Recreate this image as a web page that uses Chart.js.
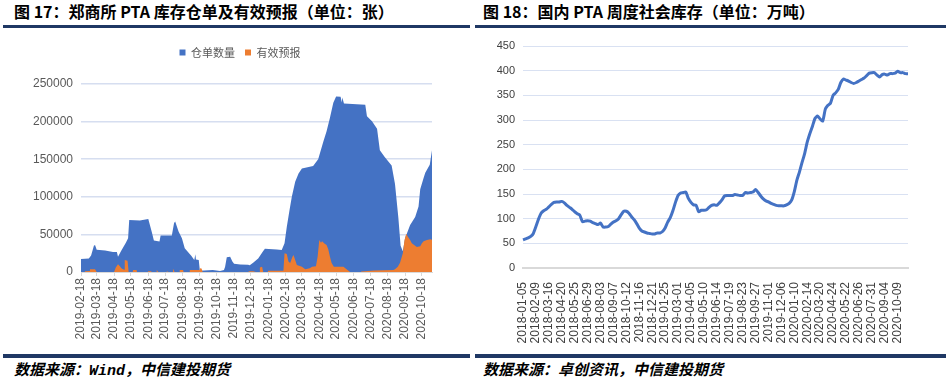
<!DOCTYPE html>
<html>
<head>
<meta charset="utf-8">
<script src="https://cdn.jsdelivr.net/npm/chart.js@4.4.1/dist/chart.umd.min.js"></script>
<style>
  body { margin: 0; width: 946px; height: 385px; background: #fff; position: relative; overflow: hidden; }
  .ttl { position: absolute; top: 2px; font: bold 16px "Noto Sans CJK SC", sans-serif; line-height: 18px; color: #000; white-space: nowrap; }
  .rule { position: absolute; height: 3px; background: #1F3864; }
  .rule.low { height: 4px; }
  .box { position: absolute; top: 30px; height: 318px; }
  .src { position: absolute; top: 363px; font: italic bold 15px "Liberation Mono", "Noto Sans CJK SC", monospace; line-height: 18px; color: #000; white-space: nowrap; }
</style>
</head>
<body>
<div class="ttl" style="left:14px">图 17：郑商所 PTA 库存仓单及有效预报（单位：张）</div>
<div class="rule" style="left:3px;width:467px;top:25px"></div>
<div class="ttl" style="left:483px">图 18：国内 PTA 周度社会库存（单位：万吨）</div>
<div class="rule" style="left:475px;width:471px;top:25px"></div>

<div class="box" style="left:0;width:470px"><canvas id="stockChart"></canvas></div>
<div class="box" style="left:475px;width:471px"><canvas id="invChart"></canvas></div>

<div class="rule low" style="left:3px;width:467px;top:354px"></div>
<div class="rule low" style="left:475px;width:471px;top:354px"></div>
<div class="src" style="left:14px">数据来源：Wind，中信建投期货</div>
<div class="src" style="left:483px">数据来源：卓创资讯，中信建投期货</div>

<script>
// ---- 图17 仓单数量 / 有效预报 (daily at turning points)
const stockDates = [
  '2019-02-18', '2019-03-04', '2019-03-08', '2019-03-13', '2019-03-15', '2019-03-18', '2019-04-02', '2019-04-16',
  '2019-04-23', '2019-04-25', '2019-05-01', '2019-05-09', '2019-05-13', '2019-05-15', '2019-06-03', '2019-06-18',
  '2019-06-24', '2019-06-28', '2019-07-08', '2019-07-10', '2019-07-30', '2019-08-03', '2019-08-05', '2019-08-11',
  '2019-08-17', '2019-08-22', '2019-09-03', '2019-09-08', '2019-09-10', '2019-09-11', '2019-09-16', '2019-09-18',
  '2019-10-11', '2019-10-24', '2019-10-31', '2019-11-02', '2019-11-05', '2019-11-11', '2019-11-15', '2019-11-18',
  '2019-11-29', '2019-12-13', '2019-12-16', '2019-12-22', '2019-12-31', '2020-01-09', '2020-01-12', '2020-02-02',
  '2020-02-11', '2020-02-16', '2020-02-20', '2020-02-25', '2020-02-29', '2020-03-06', '2020-03-12', '2020-03-18',
  '2020-04-07', '2020-04-16', '2020-04-25', '2020-05-01', '2020-05-07', '2020-05-13', '2020-05-18', '2020-05-26',
  '2020-05-28', '2020-05-29', '2020-06-01', '2020-07-09', '2020-07-12', '2020-07-21', '2020-07-30', '2020-08-04',
  '2020-08-13', '2020-08-25', '2020-08-31', '2020-09-06', '2020-09-10', '2020-09-14', '2020-09-18', '2020-09-27',
  '2020-10-06', '2020-10-12', '2020-10-15', '2020-10-21', '2020-10-24', '2020-11-01', '2020-11-05'
];
const stockValues = [
  17300, 17800, 22000, 35000, 36000, 29500, 28500, 26500,
  26500, 20400, 28500, 39000, 45000, 69300, 68500, 70500,
  53700, 42000, 40500, 48400, 48500, 65000, 67000, 53700,
  44900, 31600, 21300, 16000, 23500, 16500, 16000, 1500,
  2700, 1300, 2700, 7000, 19600, 20400, 14000, 11000,
  10000, 9800, 9000, 12400, 17800, 28000, 31000, 30000,
  29300, 38200, 60000, 82700, 100000, 120000, 131000, 137500,
  141000, 150000, 173000, 187100, 205000, 225000, 233500, 233000,
  225500, 232000, 224000, 222500, 207100, 200400, 190500, 162000,
  152500, 141500, 117000, 72000, 35000, 27500, 45000, 62500,
  73000, 87000, 110000, 125000, 132000, 142700, 162000
];
const forecastDates = [
  '2019-02-18', '2019-02-24', '2019-02-25', '2019-03-05', '2019-03-06', '2019-03-15', '2019-03-18', '2019-04-18',
  '2019-04-21', '2019-04-25', '2019-04-28', '2019-05-01', '2019-05-04', '2019-05-06', '2019-05-07', '2019-05-12',
  '2019-05-14', '2019-05-21', '2019-05-22', '2019-05-28', '2019-05-29', '2019-06-17', '2019-06-18', '2019-06-23',
  '2019-06-24', '2019-07-02', '2019-07-03', '2019-07-06', '2019-07-20', '2019-07-21', '2019-07-24', '2019-07-31',
  '2019-08-01', '2019-08-04', '2019-08-12', '2019-08-13', '2019-08-19', '2019-08-20', '2019-08-30', '2019-08-31',
  '2019-09-17', '2019-09-18', '2019-09-21', '2019-09-23', '2019-12-13', '2019-12-14', '2019-12-22', '2019-12-27',
  '2020-01-02', '2020-01-03', '2020-01-07', '2020-01-09', '2020-01-17', '2020-01-18', '2020-02-14', '2020-02-16',
  '2020-02-20', '2020-02-23', '2020-02-26', '2020-03-01', '2020-03-03', '2020-03-06', '2020-03-09', '2020-03-18',
  '2020-03-24', '2020-04-01', '2020-04-05', '2020-04-12', '2020-04-15', '2020-04-18', '2020-04-21', '2020-04-23',
  '2020-04-27', '2020-05-01', '2020-05-04', '2020-05-07', '2020-05-10', '2020-05-14', '2020-05-31', '2020-06-09',
  '2020-06-12', '2020-07-01', '2020-07-02', '2020-07-25', '2020-08-28', '2020-08-31', '2020-09-05', '2020-09-09',
  '2020-09-14', '2020-09-17', '2020-09-20', '2020-09-23', '2020-09-27', '2020-09-30', '2020-10-06', '2020-10-09',
  '2020-10-15', '2020-10-18', '2020-10-21', '2020-10-27', '2020-11-02', '2020-11-05'
];
const forecastValues = [
  0, 0, 1000, 1200, 3500, 3500, 0, 0,
  6000, 10200, 8000, 5000, 3500, 3000, 16000, 15000,
  0, 0, 2700, 2700, 0, 0, 1000, 1000,
  0, 0, 2500, 0, 0, 1000, 0, 0,
  4400, 0, 0, 2700, 2700, 0, 0, 2700,
  2700, 4900, 4500, 0, 0, 1000, 1000, 0,
  0, 6000, 7100, 0, 0, 1500, 1500, 24900,
  24000, 14000, 12000, 20000, 22700, 16000, 9300, 7100,
  3500, 5000, 7100, 7800, 20400, 42700, 39000, 41000,
  38000, 36000, 30200, 20400, 12000, 7100, 7100, 1500,
  0, 0, 800, 2000, 2500, 3500, 7000, 12400,
  25000, 42700, 50700, 47000, 42700, 38200, 35000, 33300,
  34200, 38200, 40900, 42700, 43600, 43000
];
const stockTickLabels = [
  '2019-02-18', '2019-03-18', '2019-04-18', '2019-05-18', '2019-06-18', '2019-07-18', '2019-08-18',
  '2019-09-18', '2019-10-18', '2019-11-18', '2019-12-18', '2020-01-18', '2020-02-18', '2020-03-18',
  '2020-04-18', '2020-05-18', '2020-06-18', '2020-07-18', '2020-08-18', '2020-09-18', '2020-10-18'
];

// ---- 图18 周度社会库存 (万吨), one value per week
const invStart = '2018-01-05';
const invExtraDate = '2020-04-30'; // extra report before the May holiday
const invValues = [
  57, 59, 61, 64, 70, 84, 99, 111, 116, 119,
  124, 129, 133, 134, 134, 135, 132, 127, 123, 119,
  114, 110, 107, 94, 95, 96, 95, 92, 90, 88,
  91, 83, 83, 84, 89, 93, 96, 100, 108, 115,
  115, 111, 104, 98, 90, 81, 75, 73, 71, 70,
  69, 69, 71, 71, 74, 81, 93, 102, 116, 133,
  147, 152, 153, 154, 141, 133, 128, 127, 114, 117,
  117, 118, 123, 127, 128, 127, 132, 138, 146, 147,
  147, 147, 149, 148, 147, 147, 153, 152, 153, 154,
  159, 153, 146, 140, 136, 134, 131, 129, 127, 126,
  126, 126, 128, 131, 138, 155, 178, 195, 214, 232,
  255, 272, 287, 303, 308, 302, 298, 322, 330, 334,
  350, 355, 362, 376, 383, 381, 379, 376, 374, 376,
  379, 382, 385, 390, 395, 396, 396, 391, 387, 392,
  393, 391, 394, 394, 395, 399, 396, 396, 394, 394
];

// day offset from the first trading date
const dayOf = d => (Date.parse(d) - Date.parse(stockDates[0])) / 86400000;

// weekly category labels
const invLabels = [];
let t = Date.parse(invStart);
while (invLabels.length < invValues.length) {
  const s = new Date(t).toISOString().slice(0, 10);
  invLabels.push(s);
  if (s === '2020-04-24') invLabels.push(invExtraDate);
  t += 7 * 86400000;
}
invLabels.length = invValues.length;

const tickFont = { family: '"Liberation Sans", Arial, sans-serif', size: 12 };

// extra room under the legend, and centre it like the original
const legendGap = {
  id: 'legendGap',
  afterInit(chart) {
    const lg = chart.legend;
    if (!lg) return;
    const fit = lg.fit.bind(lg);
    lg.fit = function () { fit(); this.height += 16; };
  },
  afterLayout(chart) {
    const lg = chart.legend;
    lg.left = 48;
    lg.width = lg.right - lg.left;
  }
};

const stockChart = new Chart(document.getElementById('stockChart'), {
  type: 'line',
  data: {
    datasets: [
      {
        label: '仓单数量',
        data: stockDates.map((d, i) => ({ x: dayOf(d), y: stockValues[i] })),
        backgroundColor: '#4472C4',
        borderColor: '#4472C4',
        borderWidth: 0,
        pointRadius: 0,
        fill: 'origin',
        order: 2
      },
      {
        label: '有效预报',
        data: forecastDates.map((d, i) => ({ x: dayOf(d), y: forecastValues[i] })),
        backgroundColor: '#ED7D31',
        borderColor: '#ED7D31',
        borderWidth: 0,
        pointRadius: 0,
        fill: 'origin',
        order: 1
      }
    ]
  },
  options: {
    responsive: true,
    maintainAspectRatio: false,
    animation: false,
    layout: { padding: { left: 0, right: 38, top: 7, bottom: 0 } },
    plugins: {
      tooltip: { enabled: false },
      legend: {
        position: 'top',
        labels: {
          boxWidth: 6, boxHeight: 6, padding: 10, color: '#595959',
          font: { family: '"Noto Sans CJK SC", sans-serif', size: 11 },
          sort: (a, b) => a.datasetIndex - b.datasetIndex
        }
      }
    },
    scales: {
      x: {
        type: 'linear',
        min: 0,
        max: dayOf('2020-11-05'),
        afterBuildTicks: scale => { scale.ticks = stockTickLabels.map(d => ({ value: dayOf(d) })); },
        afterFit: scale => { scale.height = 76; },
        grid: { drawOnChartArea: false, drawTicks: true, tickLength: 4, color: '#D9D9D9' },
        border: { color: '#D9D9D9', width: 1 },
        ticks: {
          autoSkip: false, minRotation: 90, maxRotation: 90, padding: 2, color: '#595959', font: tickFont,
          callback: v => stockTickLabels.find(d => dayOf(d) === v) || ''
        }
      },
      y: {
        min: 0,
        max: 250000,
        afterFit: scale => { scale.width = 81; },
        grid: { color: '#D6DEF0', lineWidth: 1.5, drawTicks: false },
        border: { display: false },
        ticks: { stepSize: 50000, padding: 8, color: '#595959', font: tickFont, callback: v => String(v) }
      }
    }
  },
  plugins: [legendGap]
});

const invChart = new Chart(document.getElementById('invChart'), {
  type: 'line',
  data: {
    labels: invLabels,
    datasets: [{
      label: '社会库存',
      data: invValues,
      borderColor: '#4472C4',
      borderWidth: 3,
      pointRadius: 0,
      tension: 0.2,
      fill: false
    }]
  },
  options: {
    responsive: true,
    maintainAspectRatio: false,
    animation: false,
    layout: { padding: { left: 0, right: 38, top: 16, bottom: 0 } },
    plugins: { legend: { display: false }, tooltip: { enabled: false } },
    scales: {
      x: {
        offset: false,
        afterBuildTicks: scale => { scale.ticks = scale.ticks.filter((tk, i) => i % 5 === 0); },
        afterFit: scale => { scale.height = 80; },
        grid: { display: false },
        border: { color: '#D9D9D9', width: 2 },
        ticks: { autoSkip: false, minRotation: 90, maxRotation: 90, padding: 6, color: '#404040', font: tickFont }
      },
      y: {
        min: 0,
        max: 450,
        afterFit: scale => { scale.width = 48; },
        grid: { color: '#D9E1F2', lineWidth: 1, drawTicks: false },
        border: { display: false },
        ticks: {
          stepSize: 50, padding: 8, color: '#404040',
          font: { family: '"Liberation Sans Narrow", "Liberation Sans", Arial, sans-serif', size: 11 }
        }
      }
    }
  }
});
</script>
</body>
</html>
